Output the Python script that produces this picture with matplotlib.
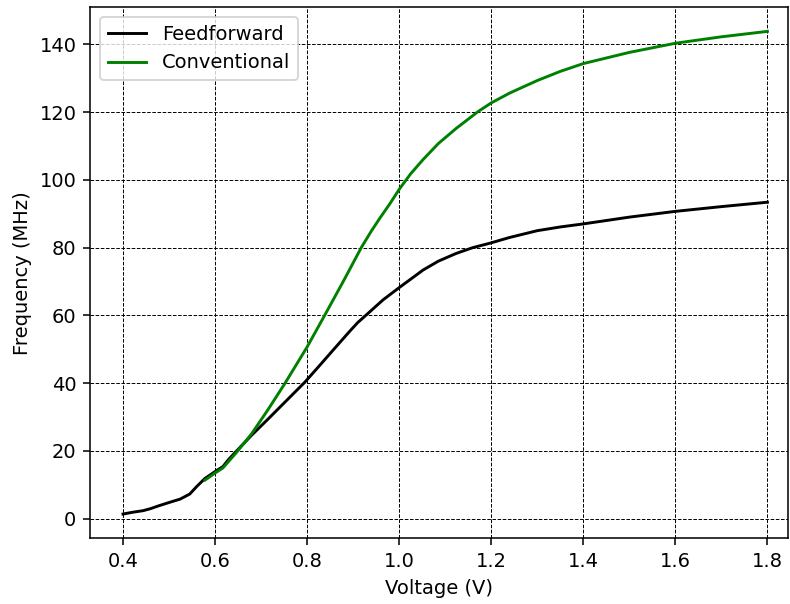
import numpy as np
import matplotlib.pyplot as plt

# Feedforward curve
ff_voltage = [0.40, 0.42, 0.444, 0.46, 0.477, 0.50, 0.524, 0.545, 0.56, 0.578,
              0.603, 0.617, 0.63, 0.646, 0.679, 0.712, 0.748, 0.795, 0.825,
              0.856, 0.893, 0.91, 0.929, 0.965, 1.001, 1.03, 1.052, 1.085, 1.124,
              1.16, 1.197, 1.24, 1.30, 1.35, 1.40, 1.50, 1.60, 1.70, 1.80]
ff_freq = [1.4, 1.9, 2.4, 3.0, 3.8, 4.8, 5.8, 7.3, 9.5, 11.9,
           14.2, 15.4, 17.6, 19.9, 24.6, 29.0, 33.9, 40.3, 44.9,
           49.7, 55.4, 57.9, 60.2, 64.6, 68.3, 71.2, 73.4, 76.0, 78.3,
           80.0, 81.3, 83.0, 85.0, 86.1, 87.0, 89.0, 90.7, 92.1, 93.4]

# Conventional curve
conv_voltage = [0.578, 0.60, 0.617, 0.646, 0.679, 0.715, 0.752, 0.80, 0.838,
                0.878, 0.918, 0.94, 0.958, 0.98, 1.001, 1.025, 1.052, 1.085,
                1.124, 1.171, 1.20, 1.24, 1.30, 1.35, 1.40, 1.50, 1.60, 1.70,
                1.80]
conv_freq = [11.4, 13.5, 15.0, 19.5, 25.0, 32.2, 40.0, 50.7, 60.0,
             69.9, 80.1, 85.0, 88.7, 93.0, 97.4, 101.8, 106.0, 110.7,
             115.2, 120.1, 122.7, 125.6, 129.3, 132.0, 134.3, 137.6, 140.3, 142.2,
             143.8]

fig, ax = plt.subplots(figsize=(790 / 140, 604 / 140), dpi=140)
ax.plot(ff_voltage, ff_freq, color='black', linewidth=1.5, label='Feedforward')
ax.plot(conv_voltage, conv_freq, color='green', linewidth=1.5, label='Conventional')

ax.set_xlabel('Voltage (V)')
ax.set_ylabel('Frequency (MHz)')
ax.set_xticks(np.arange(0.4, 1.81, 0.2))
ax.set_yticks(np.arange(0, 141, 20))
ax.set_xlim(0.3284, 1.8456)
ax.grid(True, color='black', linestyle='--', linewidth=0.5)
ax.legend(loc='upper left')

plt.subplots_adjust(left=0.114, right=0.998, top=0.988, bottom=0.109)
plt.savefig('out.png')
